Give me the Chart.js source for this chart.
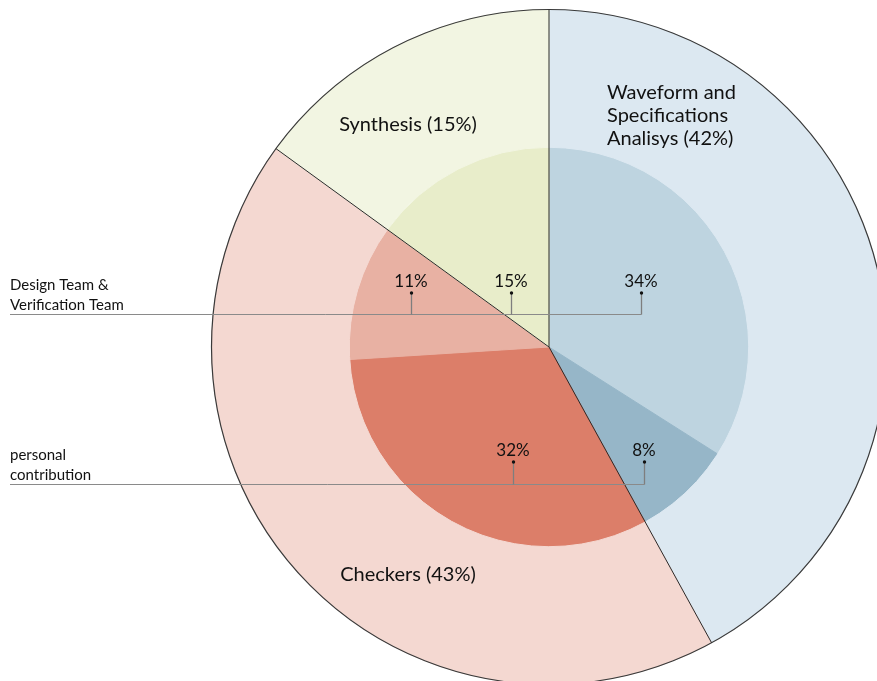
<!DOCTYPE html>
<html>
<head>
<meta charset="utf-8">
<title>Verification effort</title>
<script src="https://cdn.jsdelivr.net/npm/chart.js@4"></script>
<style>
  html, body { margin: 0; padding: 0; background: #fff; }
  .wrap { width: 877px; height: 681px; overflow: hidden; position: relative; }
  canvas { position: absolute; left: 0; top: 0; }
</style>
</head>
<body>
<div class="wrap">
  <canvas class="js-chart" width="890" height="700"></canvas>
</div>
<script>
const ctx = document.querySelector('.js-chart').getContext('2d');

// outer ring: activity share
const outerLabels = [['Waveform and', 'Specifications', 'Analisys'], ['Checkers'], ['Synthesis']];
const outerValues = [42, 43, 15];
const outerColors = ['#dce8f1', '#f4d8d1', '#f2f5e2'];

// inner pie: who did it
const innerLabels = ['Waveform personal', 'Waveform team', 'Checkers personal', 'Checkers team', 'Synthesis team'];
const innerValues = [34, 8, 32, 11, 15];
const innerColors = ['#bed4e0', '#96b6c8', '#dc7e69', '#e8b1a3', '#e8edca'];

const groupNames = [['Design Team &', 'Verification Team'], ['personal', 'contribution']];
const groupMembers = [[3, 4, 0], [2, 1]];

const FONT = 'Lato, "Open Sans", sans-serif';

// where the annotations sit, relative to the pie centre
const outerLabelPos = [
    { dx: 58, dy: -248, align: 'left' },
    { dx: -141, dy: 234, align: 'center' },
    { dx: -141, dy: -216, align: 'center' }
];
const innerLabelPos = [
    { dx: 92, dy: -54 },
    { dx: 95, dy: 115 },
    { dx: -36, dy: 115 },
    { dx: -138, dy: -54 },
    { dx: -38, dy: -54 }
];
const groupLineY = [-33, 137];

const annotations = {
    id: 'annotations',
    afterDatasetsDraw(chart) {
        const c = chart.ctx;
        const outer = chart.getDatasetMeta(0).data;
        const cx = outer[0].x;
        const cy = outer[0].y;
        const R = outer[0].outerRadius;

        c.save();
        // outer rim
        c.strokeStyle = '#3a3a3a';
        c.lineWidth = 1.2;
        c.beginPath();
        c.arc(cx, cy, R, 0, Math.PI * 2);
        c.stroke();

        // slice borders of the outer ring run right through the centre
        c.strokeStyle = '#2a2a2a';
        c.lineWidth = 1;
        outer.forEach(arc => {
            c.beginPath();
            c.moveTo(cx, cy);
            c.lineTo(cx + Math.cos(arc.startAngle) * R, cy + Math.sin(arc.startAngle) * R);
            c.stroke();
        });

        c.fillStyle = '#111';
        c.textBaseline = 'alphabetic';

        // outer labels
        c.font = '20px ' + FONT;
        outerLabels.forEach((lines, i) => {
            const p = outerLabelPos[i];
            c.textAlign = p.align;
            const text = lines.slice();
            text[text.length - 1] += ' (' + outerValues[i] + '%)';
            text.forEach((t, j) => c.fillText(t, cx + p.dx, cy + p.dy + j * 23));
        });

        // group leader lines
        groupMembers.forEach((members, g) => {
            const ly = cy + groupLineY[g];
            const lastX = Math.max(...members.map(m => cx + innerLabelPos[m].dx));
            c.strokeStyle = '#8a8a8a';
            c.lineWidth = 1;
            c.beginPath();
            c.moveTo(10, ly + 0.5);
            c.lineTo(lastX + 0.5, ly + 0.5);
            c.stroke();

            members.forEach(m => {
                const px = cx + innerLabelPos[m].dx;
                const py = cy + innerLabelPos[m].dy;
                c.strokeStyle = '#7e7e7e';
                c.lineWidth = 1.3;
                c.beginPath();
                c.moveTo(px + 0.5, py);
                c.lineTo(px + 0.5, ly + 0.5);
                c.stroke();
                c.fillStyle = '#111';
                c.beginPath();
                c.arc(px + 0.5, py, 1.7, 0, Math.PI * 2);
                c.fill();
                c.font = '17px ' + FONT;
                c.textAlign = 'center';
                c.fillText(innerValues[m] + '%', px, py - 6);
            });

            c.font = '15px ' + FONT;
            c.textAlign = 'left';
            const names = groupNames[g];
            names.forEach((t, j) => c.fillText(t, 10, ly - 4 - (names.length - 1 - j) * 20));
        });
        c.restore();
    }
};

new Chart(ctx, {
    type: 'pie',
    data: {
        labels: innerLabels,
        datasets: [
            {
                label: 'Activity',
                data: outerValues,
                backgroundColor: outerColors,
                borderColor: outerColors,
                borderWidth: 1,
                weight: 138
            },
            {
                label: 'Contribution',
                data: innerValues,
                backgroundColor: innerColors,
                borderColor: innerColors,
                borderWidth: 1,
                weight: 200
            }
        ]
    },
    options: {
        responsive: false,
        devicePixelRatio: 1,
        animation: false,
        layout: {
            padding: { left: 211, top: 9, right: 3, bottom: 15 }
        },
        plugins: {
            legend: { display: false },
            tooltip: { enabled: false }
        }
    },
    plugins: [annotations]
});
</script>
</body>
</html>
